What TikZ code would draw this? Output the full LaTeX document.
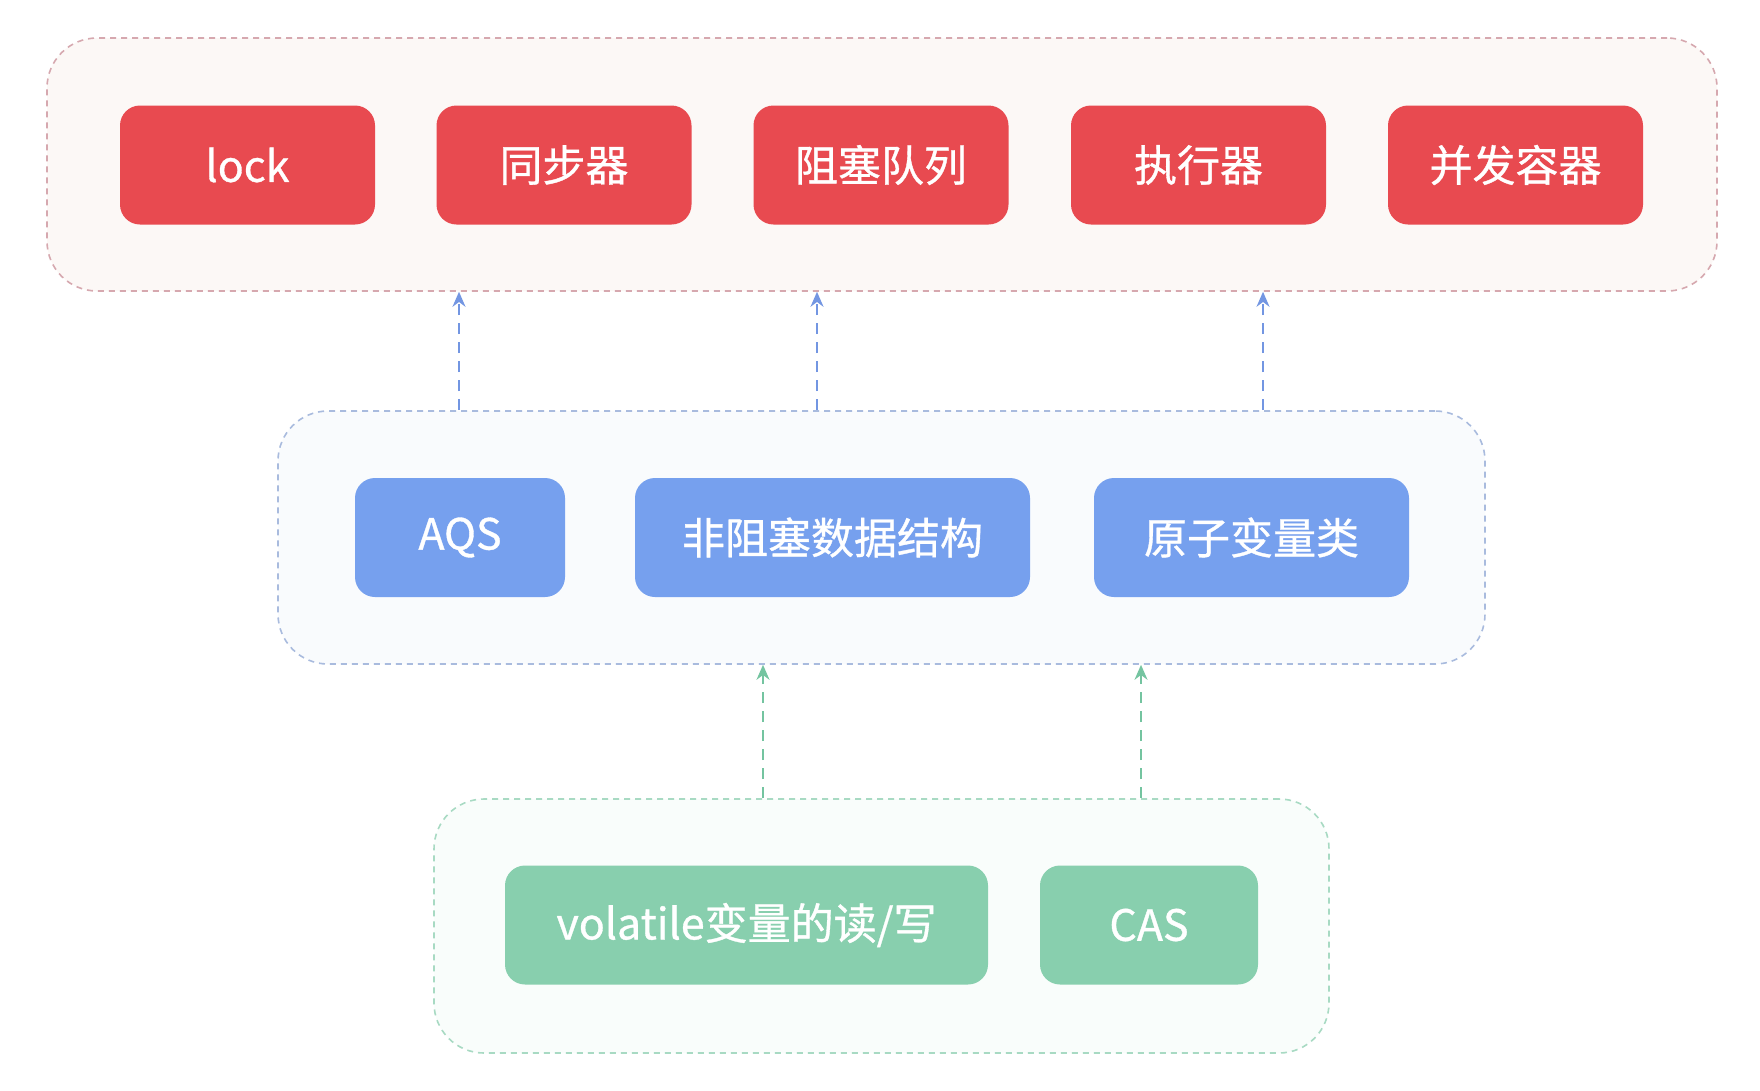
\documentclass[tikz,border=0pt]{standalone}
\usepackage{fontspec}
\newfontfamily\cjk[FakeBold=0.8]{Noto Sans CJK SC}
\usetikzlibrary{arrows.meta}
\definecolor{redbox}{HTML}{E84A50}
\definecolor{bluebox}{HTML}{76A0EE}
\definecolor{greenbox}{HTML}{88CFAE}
\definecolor{redfill}{HTML}{FCF8F6}
\definecolor{redline}{HTML}{D6A8AF}
\definecolor{bluefill}{HTML}{F9FBFD}
\definecolor{blueline}{HTML}{A9BBDE}
\definecolor{greenfill}{HTML}{F9FDFB}
\definecolor{greenline}{HTML}{A8DAC3}
\definecolor{bluearr}{HTML}{7396E2}
\definecolor{greenarr}{HTML}{74C4A0}
\tikzset{
  container/.style={rounded corners=50pt, line width=1.6pt, dash pattern=on 6pt off 5pt, inner sep=0pt},
  item/.style={rounded corners=20pt, inner sep=0pt, minimum height=119pt, text=white,
    font=\cjk\fontsize{43}{50}\selectfont},
  arr/.style={line width=1.7pt, dash pattern=on 11pt off 8pt, -{Stealth[length=15pt,width=13pt]}},
}
\begin{document}
\begin{tikzpicture}[x=1pt,y=-1pt]
\useasboundingbox[fill=white] (0,0) rectangle (1760,1090);
% containers
\node[container, draw=redline, fill=redfill, minimum width=1670pt, minimum height=253pt] (top) at (882,164.5) {};
\node[container, draw=blueline, fill=bluefill, minimum width=1207pt, minimum height=253pt] (mid) at (881.5,537.5) {};
\node[container, draw=greenline, fill=greenfill, minimum width=895pt, minimum height=254pt] (bot) at (881.5,926) {};
% top items
\node[item, fill=redbox, minimum width=255pt] (lock) at (247.5,165) {lock};
\node[item, fill=redbox, minimum width=255pt] (sync) at (564,165) {同步器};
\node[item, fill=redbox, minimum width=255pt] (bq) at (881,165) {阻塞队列};
\node[item, fill=redbox, minimum width=255pt] (exec) at (1198.5,165) {执行器};
\node[item, fill=redbox, minimum width=255pt] (cc) at (1515.5,165) {并发容器};
% middle items
\node[item, fill=bluebox, minimum width=210pt] (aqs) at (460,537.5) {AQS};
\node[item, fill=bluebox, minimum width=395pt] (nb) at (832.5,537.5) {非阻塞数据结构};
\node[item, fill=bluebox, minimum width=315pt] (atom) at (1251.5,537.5) {原子变量类};
% bottom items
\node[item, fill=greenbox, minimum width=483pt] (vol) at (746.5,925) {volatile变量的读/写};
\node[item, fill=greenbox, minimum width=218pt] (cas) at (1149,925) {CAS};
% arrow positions
\coordinate (b1) at (459,0);
\coordinate (b2) at (817,0);
\coordinate (b3) at (1263,0);
\coordinate (g1) at (763,0);
\coordinate (g2) at (1141,0);
\draw[arr, bluearr] (mid.north -| b1) -- (top.south -| b1);
\draw[arr, bluearr] (mid.north -| b2) -- (top.south -| b2);
\draw[arr, bluearr] (mid.north -| b3) -- (top.south -| b3);
\draw[arr, greenarr] (bot.north -| g1) -- (mid.south -| g1);
\draw[arr, greenarr] (bot.north -| g2) -- (mid.south -| g2);
\end{tikzpicture}
\end{document}
